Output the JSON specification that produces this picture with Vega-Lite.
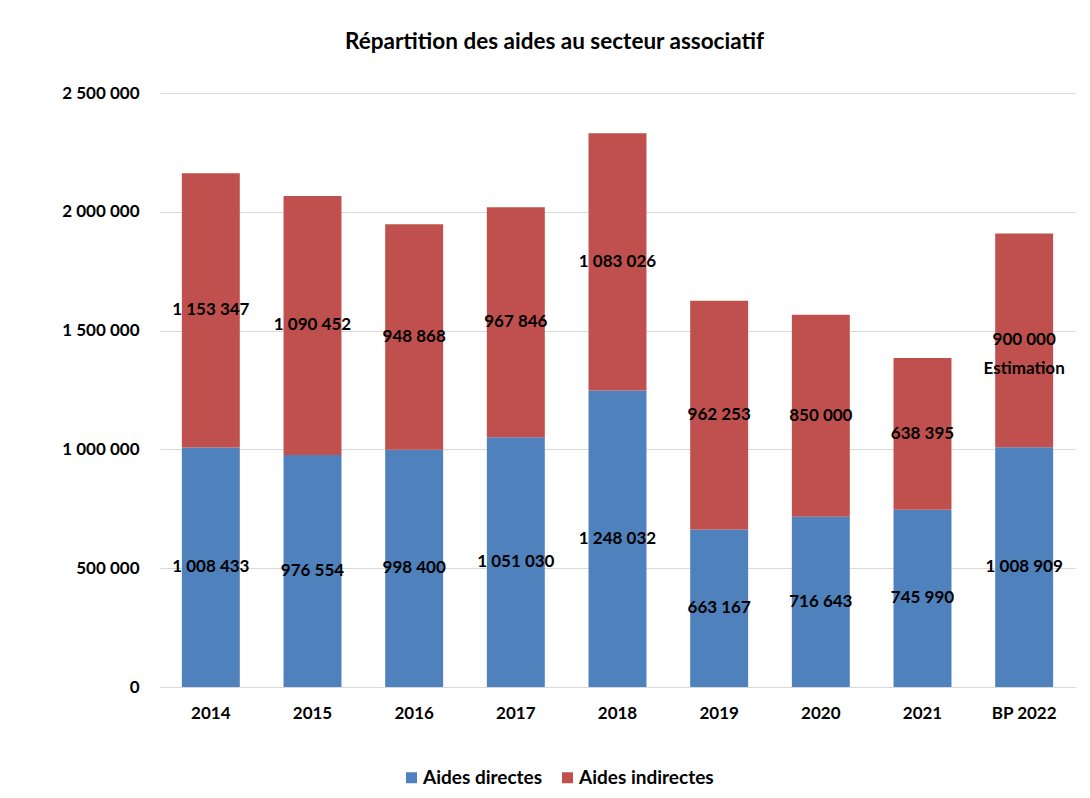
{
  "$schema": "https://vega.github.io/schema/vega-lite/v6.json",
  "width": 915,
  "height": 594,
  "autosize": {"type": "none"},
  "padding": {"left": 160, "top": 93, "right": 15, "bottom": 111},
  "background": "white",
  "config": {
    "locale": {"number": {"decimal": ",", "thousands": " ", "grouping": [3], "currency": ["", " €"]}},
    "view": {"stroke": null}
  },
  "title": {
    "text": "Répartition des aides au secteur associatif",
    "font": "Lato",
    "fontSize": 22.5,
    "fontWeight": "bold",
    "color": "#000000",
    "anchor": "middle",
    "dx": -63,
    "offset": 31
  },
  "data": {
    "values": [
      {"annee": "2014", "type": "Aides directes", "ordre": 1, "montant": 1008433, "note": ""},
      {"annee": "2014", "type": "Aides indirectes", "ordre": 2, "montant": 1153347, "note": ""},
      {"annee": "2015", "type": "Aides directes", "ordre": 1, "montant": 976554, "note": ""},
      {"annee": "2015", "type": "Aides indirectes", "ordre": 2, "montant": 1090452, "note": ""},
      {"annee": "2016", "type": "Aides directes", "ordre": 1, "montant": 998400, "note": ""},
      {"annee": "2016", "type": "Aides indirectes", "ordre": 2, "montant": 948868, "note": ""},
      {"annee": "2017", "type": "Aides directes", "ordre": 1, "montant": 1051030, "note": ""},
      {"annee": "2017", "type": "Aides indirectes", "ordre": 2, "montant": 967846, "note": ""},
      {"annee": "2018", "type": "Aides directes", "ordre": 1, "montant": 1248032, "note": ""},
      {"annee": "2018", "type": "Aides indirectes", "ordre": 2, "montant": 1083026, "note": ""},
      {"annee": "2019", "type": "Aides directes", "ordre": 1, "montant": 663167, "note": ""},
      {"annee": "2019", "type": "Aides indirectes", "ordre": 2, "montant": 962253, "note": ""},
      {"annee": "2020", "type": "Aides directes", "ordre": 1, "montant": 716643, "note": ""},
      {"annee": "2020", "type": "Aides indirectes", "ordre": 2, "montant": 850000, "note": ""},
      {"annee": "2021", "type": "Aides directes", "ordre": 1, "montant": 745990, "note": ""},
      {"annee": "2021", "type": "Aides indirectes", "ordre": 2, "montant": 638395, "note": ""},
      {"annee": "BP 2022", "type": "Aides directes", "ordre": 1, "montant": 1008909, "note": ""},
      {"annee": "BP 2022", "type": "Aides indirectes", "ordre": 2, "montant": 900000, "note": "Estimation"}
    ]
  },
  "transform": [
    {"stack": "montant", "groupby": ["annee"], "sort": [{"field": "ordre"}], "as": ["y0", "y1"]},
    {"calculate": "(datum.y0 + datum.y1) / 2", "as": "ymid"}
  ],
  "encoding": {
    "x": {
      "field": "annee",
      "type": "nominal",
      "sort": null,
      "scale": {"paddingInner": 0.43, "paddingOuter": 0.215},
      "axis": {
        "title": null,
        "labelAngle": 0,
        "labelFont": "Lato",
        "labelFontSize": 17,
        "labelFontWeight": "bold",
        "labelColor": "#000000",
        "labelPadding": 18,
        "ticks": false,
        "domainColor": "#D9D9D9",
        "domainWidth": 1
      }
    }
  },
  "layer": [
    {
      "mark": {"type": "bar"},
      "encoding": {
        "y": {
          "field": "y0",
          "type": "quantitative",
          "scale": {"domain": [0, 2500000], "nice": false},
          "axis": {
            "title": null,
            "values": [0, 500000, 1000000, 1500000, 2000000, 2500000],
            "format": ",d",
            "labelFont": "Lato",
            "labelFontSize": 17,
            "labelFontWeight": "bold",
            "labelColor": "#000000",
            "labelPadding": 21,
            "ticks": false,
            "domain": false,
            "gridColor": "#D9D9D9",
            "gridWidth": 1
          }
        },
        "y2": {"field": "y1"},
        "color": {
          "field": "type",
          "type": "nominal",
          "scale": {"domain": ["Aides directes", "Aides indirectes"], "range": ["#4F81BD", "#C0504D"]},
          "legend": {
            "title": null,
            "orient": "none",
            "legendX": 242,
            "legendY": 675,
            "direction": "horizontal",
            "symbolType": "square",
            "symbolSize": 121,
            "symbolStrokeWidth": 0,
            "labelOffset": 2,
            "labelFont": "Lato",
            "labelFontSize": 19,
            "labelFontWeight": "bold",
            "labelColor": "#000000",
            "columnPadding": 15
          }
        }
      }
    },
    {
      "mark": {"type": "text", "font": "Lato", "fontSize": 17, "fontWeight": "bold", "color": "#000000"},
      "encoding": {
        "y": {"field": "ymid", "type": "quantitative"},
        "text": {"field": "montant", "type": "quantitative", "format": ",d"}
      }
    },
    {
      "transform": [{"filter": "datum.note != ''"}],
      "mark": {"type": "text", "font": "Lato", "fontSize": 17, "fontWeight": "bold", "color": "#000000", "dy": 29},
      "encoding": {
        "y": {"field": "ymid", "type": "quantitative"},
        "text": {"field": "note", "type": "nominal"}
      }
    }
  ]
}
